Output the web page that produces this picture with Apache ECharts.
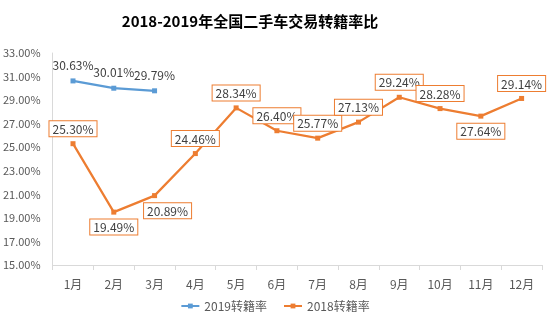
<!DOCTYPE html>
<html><head><meta charset="utf-8">
<script src="https://cdn.jsdelivr.net/npm/echarts@6/dist/echarts.min.js"></script>
<style>html,body{margin:0;padding:0;background:#fff}#c{width:550px;height:335px}</style>
</head><body><div id="c"></div>
<script>
const titleText = '2018-2019年全国二手车交易转籍率比';
const categories = ['1月','2月','3月','4月','5月','6月','7月','8月','9月','10月','11月','12月'];
const s2019Name = '2019转籍率';
const s2019 = [30.63, 30.01, 29.79];
const s2018Name = '2018转籍率';
const s2018 = [25.30, 19.49, 20.89, 24.46, 28.34, 26.40, 25.77, 27.13, 29.24, 28.28, 27.64, 29.14];
const labelPos2018 = ['top','bottom','bottom','top','top','top','top','top','top','top','bottom','top'];
const yMin = 15, yMax = 33, yStep = 2;

const chart = echarts.init(document.getElementById('c'));
const font = 'Microsoft YaHei, "Noto Sans CJK SC", sans-serif';
chart.setOption({
  animation: false,
  textStyle: {fontFamily: font},
  title: {text: titleText, left: 245, textAlign: 'center', top: 9,
    textStyle: {fontSize: 15, fontWeight: 'bold', color: '#000', fontFamily: font}},
  grid: {left: 51, right: 8, top: 53, bottom: 70},
  legend: {bottom: 18, left: 'center', itemWidth: 18, itemHeight: 6, itemGap: 16,
    textStyle: {color: '#595959', fontSize: 12}, data: [s2019Name, s2018Name]},
  xAxis: {type: 'category', data: categories, boundaryGap: true,
    axisLine: {lineStyle: {color: '#d9d9d9', width: 1}},
    axisTick: {show: true, length: 5, lineStyle: {color: '#d9d9d9'}},
    axisLabel: {color: '#595959', fontSize: 12, margin: 13}},
  yAxis: {type: 'value', min: yMin, max: yMax, interval: yStep,
    splitLine: {show: false},
    axisLine: {show: true, lineStyle: {color: '#d9d9d9'}},
    axisTick: {show: false},
    axisLabel: {color: '#595959', fontSize: 11, margin: 12,
      formatter: v => v.toFixed(2) + '%'}},
  series: [
    {name: s2019Name, type: 'line', data: s2019, symbol: 'rect', symbolSize: 5,
      itemStyle: {color: '#5B9BD5'}, lineStyle: {width: 2.25, color: '#5B9BD5'},
      label: {show: true, position: 'top', distance: 7, color: '#404040', fontSize: 12,
        formatter: p => p.value.toFixed(2) + '%'}},
    {name: s2018Name, type: 'line', symbol: 'rect', symbolSize: 5,
      data: s2018.map((v, i) => ({value: v, label: i === 2 ? {position: 'bottom', offset: [13, 0]} : {position: labelPos2018[i]}})),
      itemStyle: {color: '#ED7D31'}, lineStyle: {width: 2.25, color: '#ED7D31'},
      label: {show: true, distance: 5, color: '#404040', fontSize: 12,
        borderColor: '#ED7D31', borderWidth: 1, padding: [2, 3, 1, 3], backgroundColor: '#fff',
        formatter: p => p.value.toFixed(2) + '%'}}
  ]
});
</script></body></html>
